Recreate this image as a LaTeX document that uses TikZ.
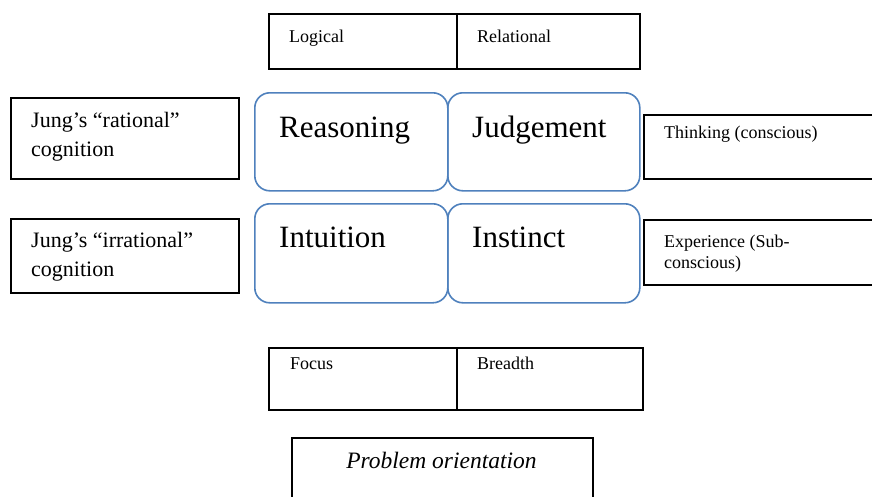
\documentclass[tikz,border=0pt]{standalone}
\usepackage{fontspec}
\setmainfont{Liberation Serif}
\definecolor{quadblue}{RGB}{79,129,189}
\tikzset{
  plainbox/.style={draw=black, line width=1.8pt, rectangle, inner sep=0pt, anchor=north west},
  quadbox/.style={draw=quadblue, line width=1.6pt, rounded corners=15pt, rectangle, inner sep=0pt, anchor=north west},
  txt/.style={inner sep=0pt, anchor=base west, align=left},
  smalltxt/.style={txt, font=\fontsize{18}{20}\selectfont},
  midtxt/.style={txt, font=\fontsize{22}{29}\selectfont},
  bigtxt/.style={txt, font=\fontsize{31}{34}\selectfont},
}
\begin{document}
\begin{tikzpicture}[x=1pt, y=-1pt]
\clip (0,0) rectangle (872,496);
\fill[white] (0,0) rectangle (872,496);

% top pair: orientation of the judging functions
\node[plainbox, minimum width=188pt, minimum height=55pt] (logical) at (268,13) {};
\node[plainbox, minimum width=183pt, minimum height=55pt] (relational) at (456,13) {};
\node[smalltxt] (logicaltxt) at (289,42) {Logical};
\node[smalltxt] (relationaltxt) at (477,42) {Relational};

% the four quadrants
\node[quadbox, minimum width=193pt, minimum height=98pt] (reasoning) at (254,92) {};
\node[quadbox, minimum width=192pt, minimum height=98pt] (judgement) at (447,92) {};
\node[quadbox, minimum width=193pt, minimum height=99pt] (intuition) at (254,203) {};
\node[quadbox, minimum width=192pt, minimum height=99pt] (instinct) at (447,203) {};
\node[bigtxt] (reasoningtxt) at (279,137) {Reasoning};
\node[bigtxt] (judgementtxt) at (472,137) {Judgement};
\node[bigtxt] (intuitiontxt) at (279,247) {Intuition};
\node[bigtxt] (instincttxt) at (472,247) {Instinct};

% left column (two-line labels are placed by the baseline of their last line)
\node[plainbox, minimum width=228pt, minimum height=81pt] (rational) at (10,97) {};
\node[plainbox, minimum width=228pt, minimum height=74pt] (irrational) at (10,218) {};
\node[midtxt] (rationaltxt) at (31,156) {Jung’s “rational”\\cognition};
\node[midtxt] (irrationaltxt) at (31,276) {Jung’s “irrational”\\cognition};

% right column
\node[plainbox, minimum width=240pt, minimum height=64pt] (thinking) at (643,114) {};
\node[plainbox, minimum width=240pt, minimum height=65pt] (experience) at (643,219) {};
\node[smalltxt] (thinkingtxt) at (664,138) {Thinking (conscious)};
\node[txt, font=\fontsize{18}{21}\selectfont] (experiencetxt) at (664,268) {Experience (Sub-\\conscious)};

% bottom pair: orientation of the perceiving functions
\node[plainbox, minimum width=188pt, minimum height=62pt] (focus) at (268,347) {};
\node[plainbox, minimum width=186pt, minimum height=62pt] (breadth) at (456,347) {};
\node[smalltxt] (focustxt) at (290,369) {Focus};
\node[smalltxt] (breadthtxt) at (477,369) {Breadth};

% caption box
\node[plainbox, minimum width=301pt, minimum height=80pt] (problem) at (291,437) {};
\node[inner sep=0pt, anchor=base, font=\fontsize{23.5}{26}\selectfont\itshape] (problemtxt) at (441.5,468) {Problem orientation};
\end{tikzpicture}
\end{document}
